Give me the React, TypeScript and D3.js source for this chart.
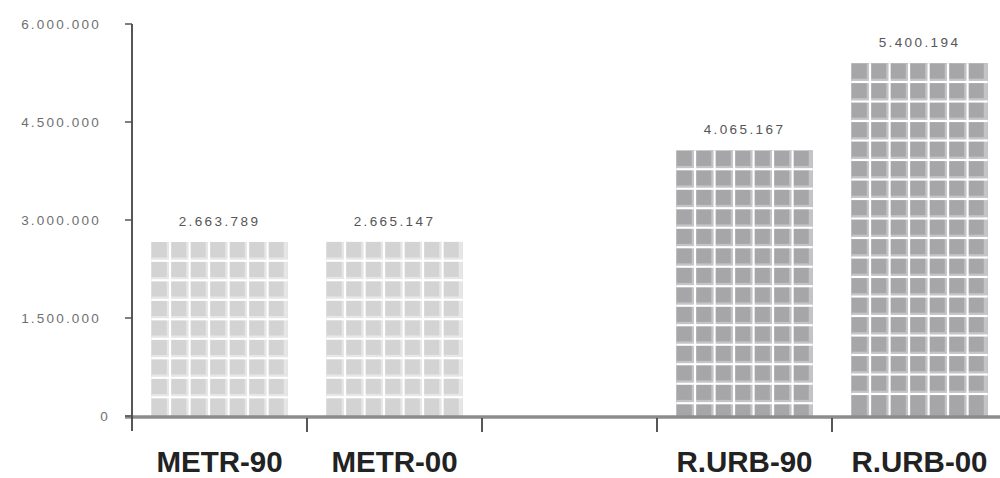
import React from "react";
import * as d3 from "d3";

const categories = ["METR-90", "METR-00", "", "R.URB-90", "R.URB-00"];
const values: (number | null)[] = [2663789, 2665147, null, 4065167, 5400194];
const groups = ["metr", "metr", "", "rurb", "rurb"];
const yTicks = [0, 1500000, 3000000, 4500000, 6000000];

const W = 1000;
const H = 478;

const fills: Record<string, { base: string; light: string }> = {
  metr: { base: "#d3d3d4", light: "#e6e6e7" },
  rurb: { base: "#a6a6a8", light: "#c4c4c6" },
};

const locale = d3.formatLocale({
  decimal: ",",
  thousands: ".",
  grouping: [3],
  currency: ["", ""],
});
const fmt = locale.format(",d");

export default function App() {
  const y = d3.scaleLinear().domain([0, 6000000]).range([416, 24]);
  const keys = categories.map((c, i) => c || `_${i}`);
  const x = d3
    .scaleBand<string>()
    .domain(keys)
    .range([132, 1007])
    .paddingInner(0.22)
    .paddingOuter(0.11);
  const step = x.step();
  const bw = x.bandwidth();
  const x0 = 132;
  const font = "'Liberation Sans', Arial, sans-serif";

  return (
    <svg
      width={W}
      height={H}
      style={{ position: "absolute", left: 0, top: 0, background: "#fff" }}
      fontFamily={font}
    >
      {keys.map((k, i) => {
        const v = values[i];
        if (v == null) return null;
        const bx = x(k)!;
        const top = y(v);
        const bottom = y(0);
        const col = fills[groups[i]];
        const cw = bw / 7;
        const cols = d3.range(1, 7).map((j) => bx + j * cw);
        const rows: number[] = [];
        for (let yy = top + cw; yy < bottom - 4; yy += cw) rows.push(yy);
        return (
          <g key={k}>
            <rect x={bx} y={top} width={bw} height={bottom - top} fill={col.base} />
            {cols.map((cx, j) => (
              <rect key={"lv" + j} x={cx - 4} y={top} width={2.2} height={bottom - top} fill={col.light} />
            ))}
            <rect x={bx + bw - 4} y={top} width={4} height={bottom - top} fill={col.light} />
            {rows.map((ry, j) => (
              <rect key={"lh" + j} x={bx} y={ry - 4} width={bw} height={2.2} fill={col.light} />
            ))}
            {cols.map((cx, j) => (
              <rect key={"v" + j} x={cx - 1.8} y={top} width={2.2} height={bottom - top} fill="#ffffff" />
            ))}
            {rows.map((ry, j) => (
              <rect key={"h" + j} x={bx} y={ry - 1.8} width={bw} height={2.2} fill="#ffffff" />
            ))}
            <text
              x={bx + bw / 2}
              y={top - 16}
              textAnchor="middle"
              fontSize={13.5}
              letterSpacing={2.4}
              fill="#555"
            >
              {fmt(v)}
            </text>
          </g>
        );
      })}

      <line x1={125} x2={1000} y1={y(0) + 1} y2={y(0) + 1} stroke="#8c8c8c" strokeWidth={3.5} />

      <line x1={x0} x2={x0} y1={y(6000000)} y2={431} stroke="#444" strokeWidth={1.8} />
      {yTicks.map((t) => (
        <g key={t}>
          <line x1={125} x2={x0} y1={y(t)} y2={y(t)} stroke="#555" strokeWidth={1.5} />
          <text
            x={t === 0 ? 110 : 101}
            y={y(t)}
            dy="0.35em"
            textAnchor="end"
            fontSize={13.5}
            letterSpacing={2.2}
            fill="#6f6f6f"
          >
            {fmt(t)}
          </text>
        </g>
      ))}

      {d3.range(1, 5).map((i) => (
        <line
          key={i}
          x1={x0 + i * step}
          x2={x0 + i * step}
          y1={418}
          y2={432}
          stroke="#444"
          strokeWidth={1.8}
        />
      ))}

      {keys.map((k, i) =>
        categories[i] ? (
          <text
            key={"c" + k}
            x={x(k)! + bw / 2}
            y={472}
            textAnchor="middle"
            fontSize={29.5}
            fontWeight="bold"
            fill="#222"
          >
            {categories[i]}
          </text>
        ) : null
      )}
    </svg>
  );
}
